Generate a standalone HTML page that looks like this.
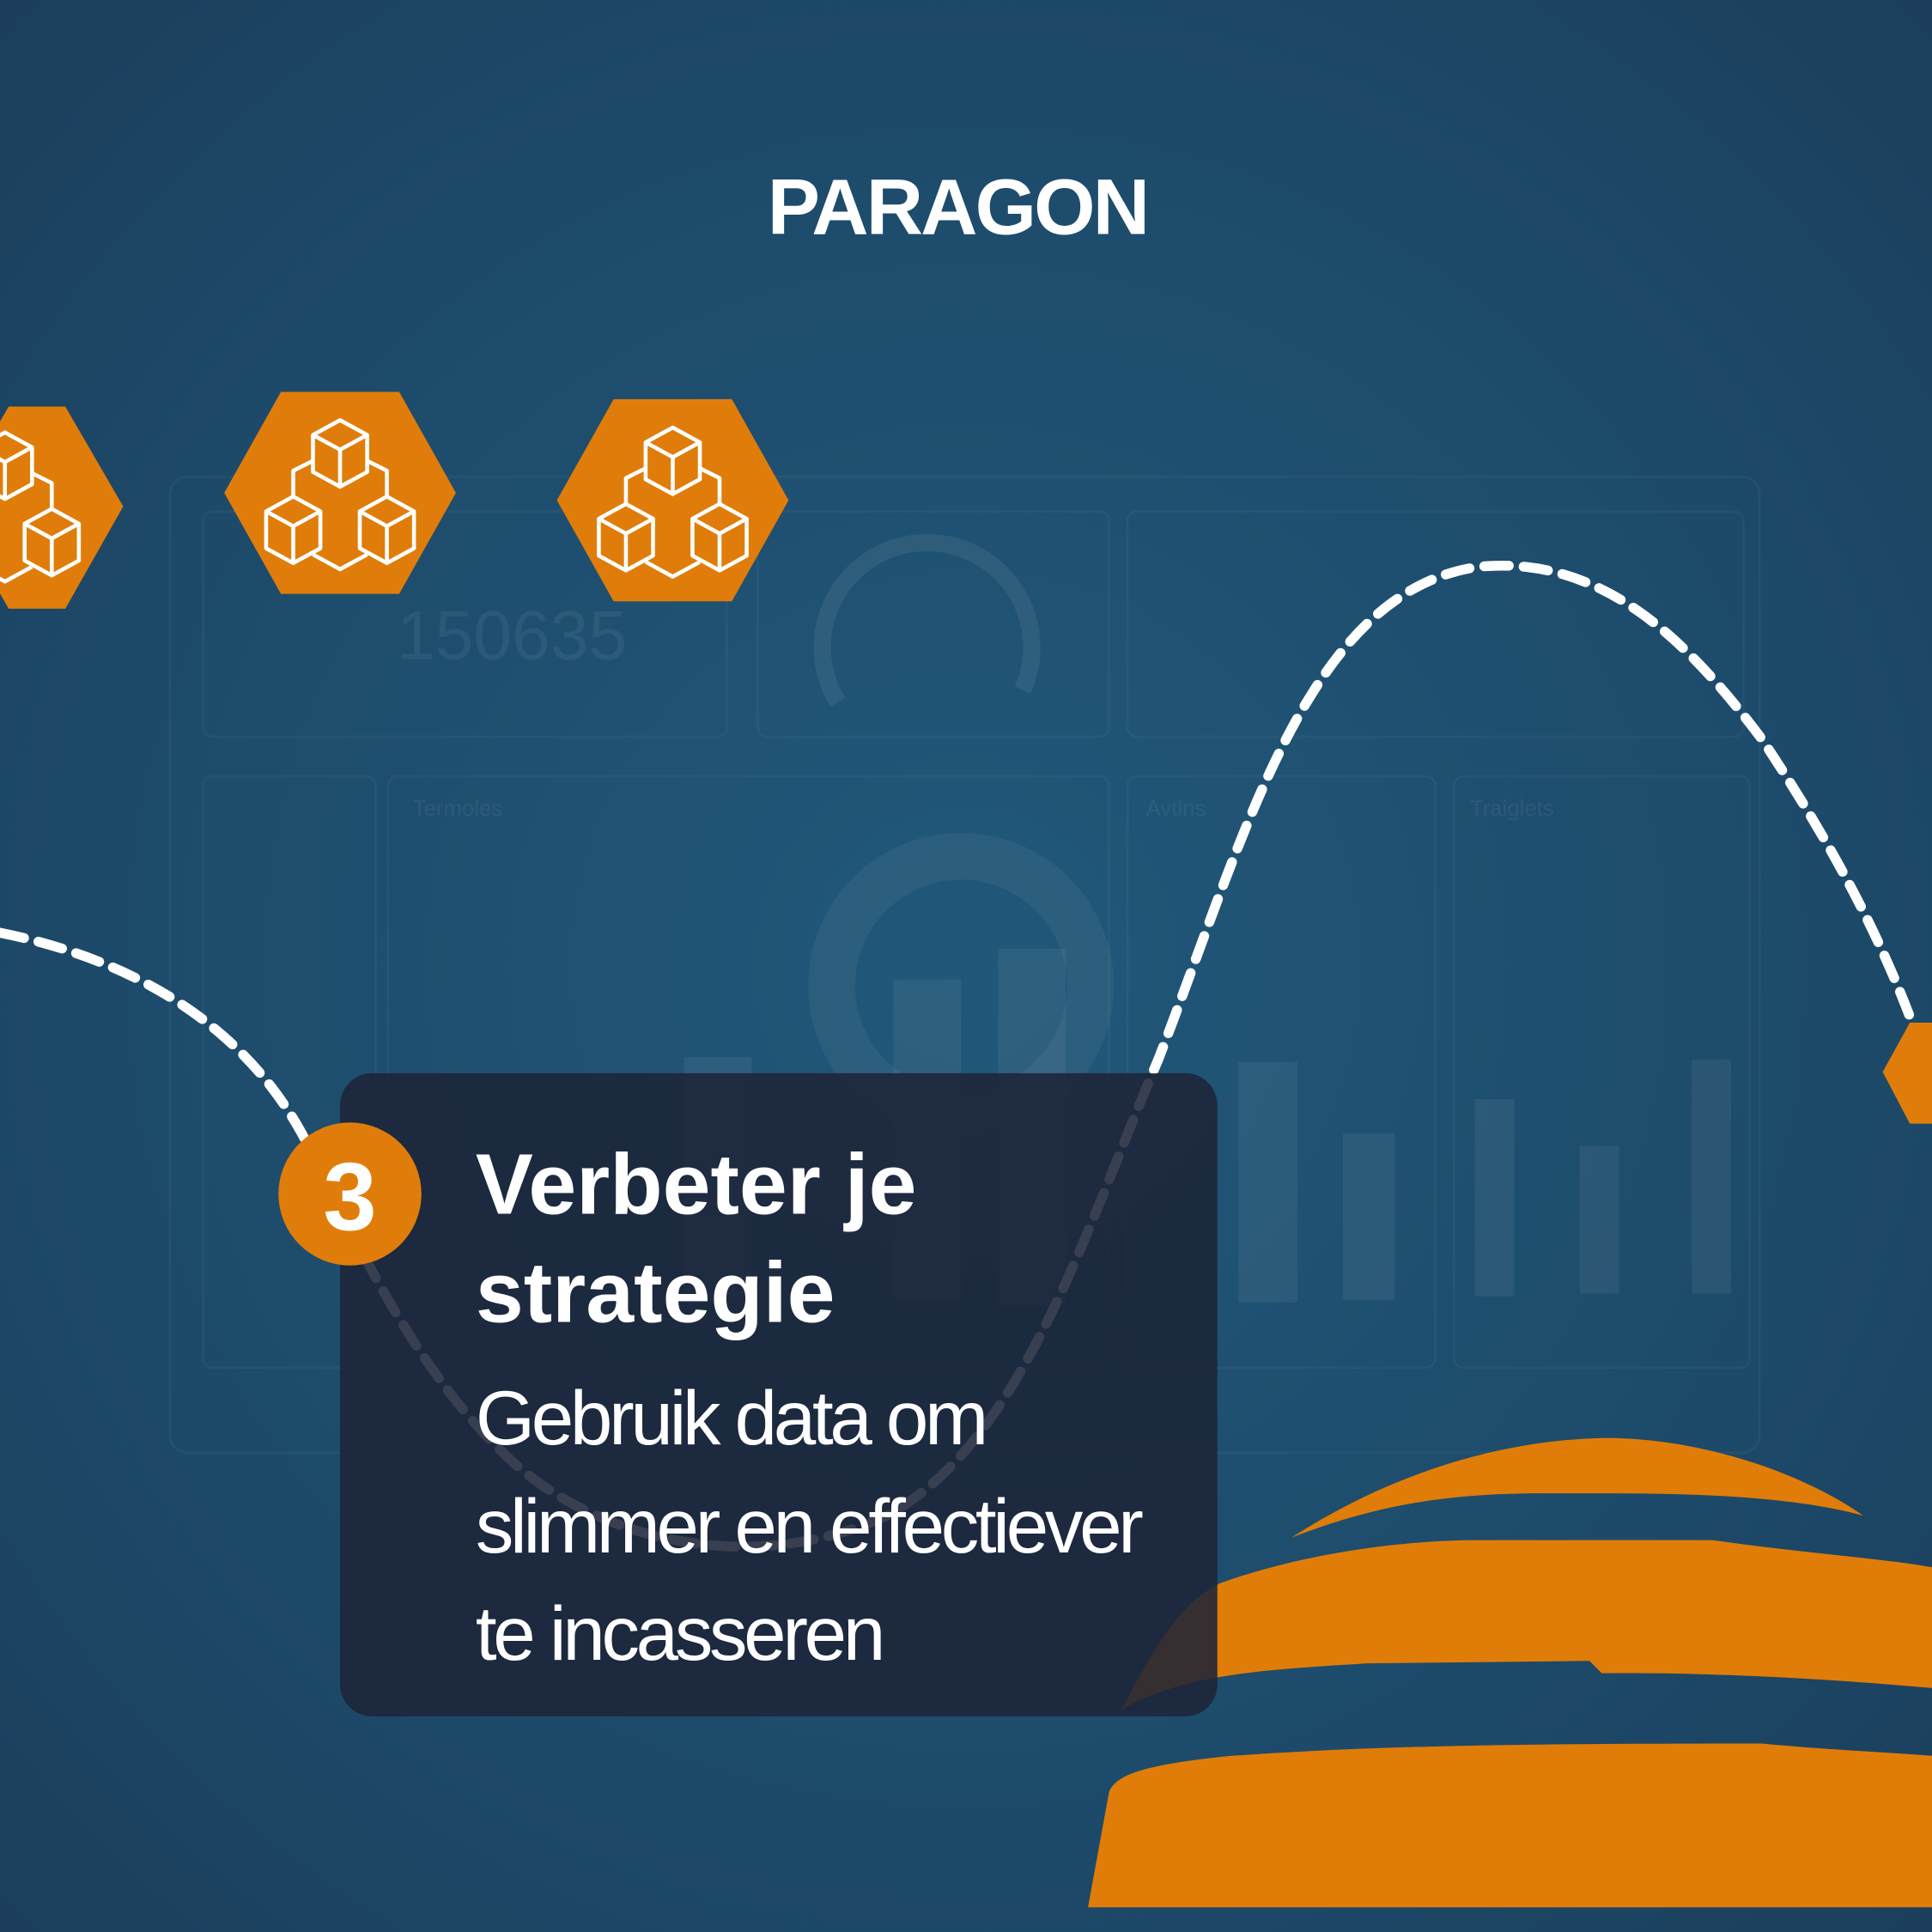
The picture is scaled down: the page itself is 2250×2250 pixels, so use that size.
<!DOCTYPE html>
<html><head><meta charset="utf-8"><style>
html,body{margin:0;padding:0;background:#1d4565;}
svg{display:block}
</style></head><body>
<svg width="2250" height="2250" viewBox="0 0 1568 1568" xmlns="http://www.w3.org/2000/svg">
<defs>
<radialGradient id="bg" cx="0.5" cy="0.5" r="0.75">
<stop offset="0" stop-color="#21587a"/><stop offset="0.6" stop-color="#1d4a6a"/><stop offset="1" stop-color="#1b3c59"/>
</radialGradient>
<g id="cubes" fill="none" stroke="#fff" stroke-width="3.2" stroke-linejoin="round">
<path d="M-22,-27 L0,-39 L22,-27 L22,3 L0,15 L-22,3 Z M-22,-27 L0,-15 L22,-27 M0,-15 L0,15"/>
<path d="M-60,35 L-38,23 L-16,35 L-16,65 L-38,77 L-60,65 Z M-60,35 L-38,47 L-16,35 M-38,47 L-38,77"/>
<path d="M16,35 L38,23 L60,35 L60,65 L38,77 L16,65 Z M16,35 L38,47 L60,35 M38,47 L38,77"/>
<path d="M-22,-6 L-38,2 L-38,23 M22,-6 L38,2 L38,23 M-22,70 L0,82 L22,70"/>
</g>
</defs>
<rect width="1568" height="1568" fill="url(#bg)"/>
<!-- faint dashboard -->
<g fill="none" stroke="#fff" stroke-opacity="0.04" stroke-width="2">
<rect x="138" y="387" width="1290" height="792" rx="14"/>
<rect x="165" y="415" width="425" height="183" rx="8"/>
<rect x="615" y="415" width="285" height="183" rx="8"/>
<rect x="915" y="415" width="500" height="183" rx="8"/>
<rect x="165" y="630" width="140" height="480" rx="8"/>
<rect x="315" y="630" width="585" height="480" rx="8"/>
<rect x="915" y="630" width="250" height="480" rx="8"/>
<rect x="1180" y="630" width="240" height="480" rx="8"/>
<path d="M680,570 A85,85 0 1 1 830,560" stroke-width="14" stroke-opacity="0.07"/>
<circle cx="780" cy="800" r="105" stroke-width="38" stroke-opacity="0.05"/>
</g>
<g fill="#fff" fill-opacity="0.06" font-family="Liberation Sans, sans-serif">
<text x="322" y="535" font-size="56">150635</text>
<text x="335" y="662" font-size="18">Termoles</text>
<text x="930" y="662" font-size="18">Avtlns</text>
<text x="1193" y="662" font-size="18">Traiglets</text>
<rect x="555" y="858" width="55" height="200"/><rect x="725" y="795" width="55" height="260"/>
<rect x="810" y="770" width="55" height="290"/><rect x="1005" y="862" width="48" height="195"/>
<rect x="1090" y="920" width="42" height="135"/><rect x="1197" y="892" width="32" height="160"/>
<rect x="1282" y="930" width="32" height="120"/><rect x="1373" y="860" width="32" height="190"/>
</g>
<!-- logo -->
<text x="777" y="190" text-anchor="middle" font-family="Liberation Sans, sans-serif" font-weight="bold" font-size="64" fill="#fff" letter-spacing="-2">PARAGON</text>
<!-- hexagons -->
<g fill="#e07d0a">
<polygon points="-40,411 7,330 53,330 100,411 53,494 7,494"/>
<polygon points="182,400 228,318 324,318 370,400 324,482 228,482"/>
<polygon points="452,406 498,324 594,324 640,406 594,488 498,488"/>
<polygon points="1528,870 1550,830 1620,830 1620,912 1550,912"/>
</g>
<use href="#cubes" x="276" y="380"/>
<use href="#cubes" x="546" y="386"/>
<use href="#cubes" x="4" y="390"/>
<!-- dashed curve -->
<path d="M0,757 C90,775 190,820 245,920 C280,985 330,1110 420,1190 C490,1250 610,1280 720,1230 C830,1170 880,1000 940,860 C1010,680 1060,480 1200,460 C1300,450 1370,520 1430,600 C1490,690 1525,760 1550,825" fill="none" stroke="#fff" stroke-width="8" stroke-dasharray="20 12" stroke-linecap="round"/>
<!-- orange bands -->
<g fill="#e07d08">
<path d="M1048,1248 C1130,1195 1220,1168 1305,1167 C1390,1168 1470,1200 1512,1230 C1440,1210 1330,1212 1250,1212 C1180,1212 1120,1220 1048,1248 Z"/>
<path d="M910,1388 C940,1330 960,1300 990,1285 C1060,1260 1140,1250 1200,1250 L1390,1250 C1460,1260 1530,1265 1568,1272 L1568,1370 C1480,1362 1380,1357 1300,1358 L1290,1348 L1110,1350 C1030,1355 960,1358 910,1388 Z"/>
<path d="M883,1548 L900,1455 C905,1440 930,1432 1000,1425 C1100,1418 1200,1415 1430,1415 C1480,1420 1530,1422 1568,1425 L1568,1548 Z"/>
</g>
<!-- text box -->
<rect x="276" y="871" width="712" height="522" rx="26" fill="#1c2438" fill-opacity="0.88"/>
<circle cx="284" cy="969" r="58" fill="#e07d0a"/>
<text x="284" y="998" text-anchor="middle" font-family="Liberation Sans, sans-serif" font-weight="bold" font-size="78" fill="#fff">3</text>
<g font-family="Liberation Sans, sans-serif" fill="#fff">
<text x="386" y="985" font-size="70" font-weight="bold">Verbeter je</text>
<text x="386" y="1073" font-size="70" font-weight="bold">strategie</text>
<text x="386" y="1172" font-size="62" letter-spacing="-3">Gebruik data om</text>
<text x="386" y="1260" font-size="62" letter-spacing="-3">slimmer en effectiever</text>
<text x="386" y="1347" font-size="62" letter-spacing="-3">te incasseren</text>
</g>
</svg>
</body></html>
